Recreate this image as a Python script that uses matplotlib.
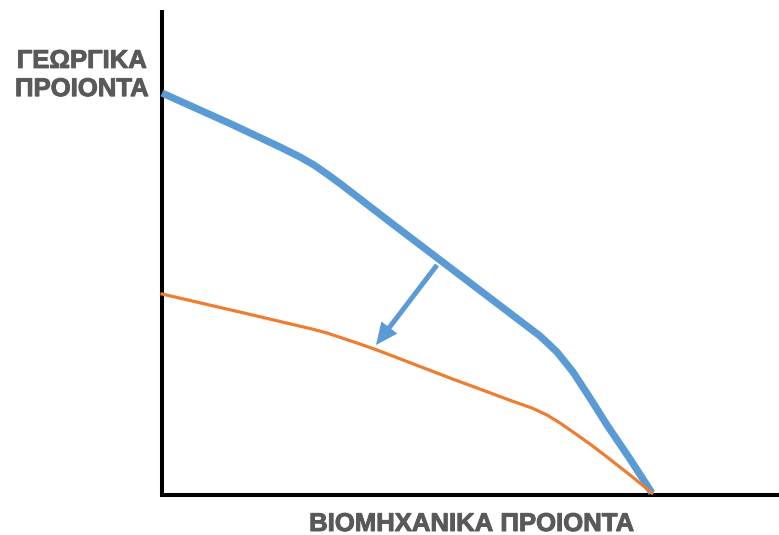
import matplotlib
matplotlib.use("Agg")
import matplotlib.pyplot as plt
import matplotlib.patheffects as pe

# Curve values (arbitrary units)
blue_x = [0, 69, 118, 138, 152, 165, 180, 228, 278, 328, 378, 395, 411, 428, 445, 468, 490]
blue_y = [402, 371, 348, 338, 330, 321, 310, 273, 235, 197, 159, 143, 123, 97, 70, 36, 2]
orange_x = [0, 82, 150, 165, 180, 195, 215, 288, 350, 370, 385, 398, 411, 428, 445, 468, 490]
orange_y = [201, 182, 166, 162, 157, 152, 145, 117, 94, 87, 80, 72, 63, 51, 38, 20, 2]
arrow_start = (275, 230)
arrow_end = (214, 150)

y_label = "ΓΕΩΡΓΙΚΑ\nΠΡΟΙΟΝΤΑ"
x_label = "ΒΙΟΜΗΧΑΝΙΚΑ ΠΡΟΙΟΝΤΑ"

W, H = 779, 535
fig = plt.figure(figsize=(W / 100, H / 100), dpi=100)
ax = fig.add_axes([162 / W, (H - 495) / H, (W - 162) / W, (495 - 12) / H])
ax.set_xlim(0, 617)
ax.set_ylim(0, 483)
for s in ["top", "right"]:
    ax.spines[s].set_visible(False)
for s in ["left", "bottom"]:
    ax.spines[s].set_linewidth(2.9)
    ax.spines[s].set_color("black")
    ax.spines[s].set_capstyle("projecting")
ax.set_xticks([])
ax.set_yticks([])

ax.plot(blue_x, blue_y, color="#5B9BD5", lw=5.2, solid_joinstyle="round",
        solid_capstyle="butt", clip_on=False, zorder=3)
ax.plot(orange_x, orange_y, color="#ED7D31", lw=2.3, solid_joinstyle="round",
        clip_on=False, zorder=4)

dx = arrow_end[0] - arrow_start[0]
dy = arrow_end[1] - arrow_start[1]
ax.arrow(arrow_start[0], arrow_start[1], dx, dy, width=5, head_width=20,
         head_length=22, length_includes_head=True, color="#5B9BD5", lw=0)

fx = [pe.withStroke(linewidth=0.7, foreground="#595959")]
fig.text(82 / W, 1 - 75 / H, y_label, ha="center", va="center",
         fontsize=18.5, fontweight="bold", color="#595959",
         family="Liberation Sans", linespacing=1.22, path_effects=fx)
fig.text(472 / W, 1 - 524 / H, x_label, ha="center", va="center",
         fontsize=18.5, fontweight="bold", color="#595959",
         family="Liberation Sans", path_effects=fx)

fig.savefig("out.png", dpi=100)
